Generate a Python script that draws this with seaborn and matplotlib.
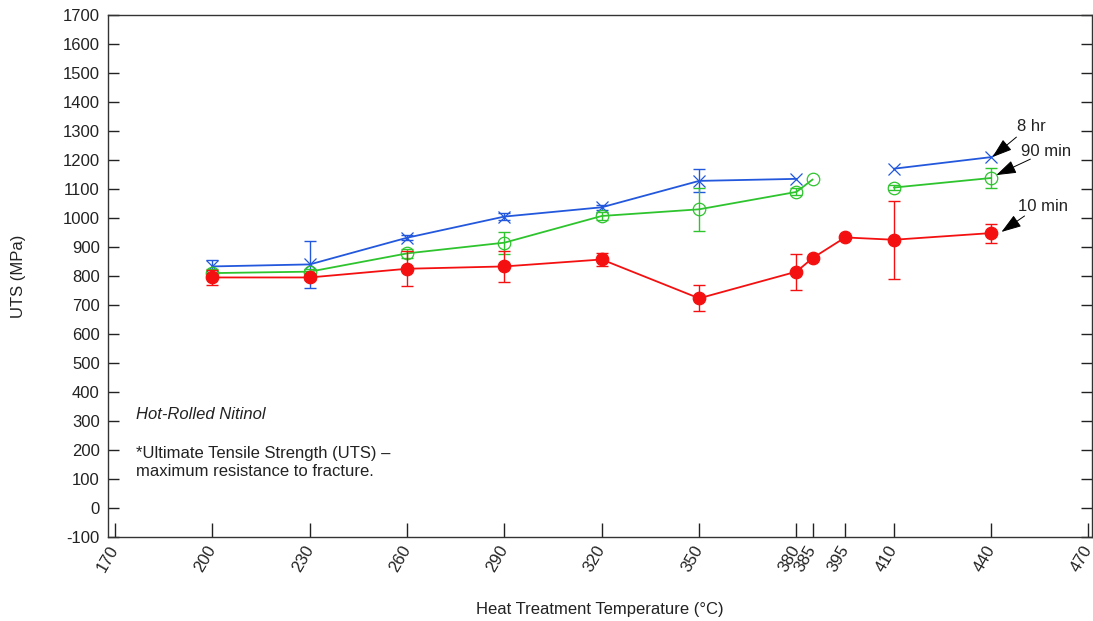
import numpy as np
import pandas as pd
import matplotlib
matplotlib.use("Agg")
import matplotlib.pyplot as plt
import seaborn as sns

# ---- data ----
temps_10 = [200, 230, 260, 290, 320, 350, 380, 385, 395, 410, 440]
uts_10 = [795, 795, 825, 833, 857, 723, 815, 862, 933, 925, 948]
err_10 = [25, 10, 60, 52, 24, 45, 62, 0, 0, 135, 33]

temps_90 = [200, 230, 260, 290, 320, 350, 380, 385, 410, 440]
uts_90 = [810, 815, 878, 915, 1007, 1030, 1090, 1133, 1105, 1138]
err_90 = [15, 10, 15, 38, 15, 75, 12, 0, 8, 33]
seg_90 = [0, 0, 0, 0, 0, 0, 0, 0, 1, 1]

temps_8h = [200, 230, 260, 290, 320, 350, 380, 410, 440]
uts_8h = [833, 840, 932, 1005, 1037, 1128, 1135, 1170, 1210]
err_8h = [22, 80, 8, 12, 8, 40, 0, 0, 0]
seg_8h = [0, 0, 0, 0, 0, 0, 0, 1, 1]

series_labels = ["8 hr", "90 min", "10 min"]

xticks = [170, 200, 230, 260, 290, 320, 350, 380, 385, 395, 410, 440, 470]
yticks = list(range(-100, 1701, 100))

sns.set_theme(style="white")
plt.rcParams['font.family'] = ['Liberation Sans', 'DejaVu Sans']

fig = plt.figure(figsize=(10.93, 6.21), dpi=100)
ax = fig.add_axes([0.0988, 0.1353, 0.9, 0.8405])

RED = "#f41010"
GREEN = "#2ec42e"
BLUE = "#2358dd"
FS = 12
TXT = "#222222"

df8 = pd.DataFrame({"T": temps_8h, "UTS": uts_8h, "seg": seg_8h})
df90 = pd.DataFrame({"T": temps_90, "UTS": uts_90, "seg": seg_90})
df10 = pd.DataFrame({"T": temps_10, "UTS": uts_10, "seg": [0] * len(temps_10)})

def draw(df, errs, color, marker, mfc, ms):
    sns.lineplot(data=df, x="T", y="UTS", units="seg", estimator=None,
                 color=color, lw=1.3, marker=marker, markersize=ms,
                 markerfacecolor=mfc, markeredgecolor=color, markeredgewidth=0.9,
                 ax=ax, legend=False, sort=False)
    e = np.array(errs, dtype=float)
    m = e > 0
    ax.errorbar(np.array(df["T"])[m], np.array(df["UTS"])[m], yerr=e[m],
                fmt="none", ecolor=color, elinewidth=1.0, capsize=4.5, capthick=1.0)

draw(df8, err_8h, BLUE, "x", BLUE, 9)
draw(df90, err_90, GREEN, "o", "none", 9)
draw(df10, err_10, RED, "o", RED, 9)

ax.set_xlim(167.8, 471)
ax.set_ylim(-100, 1700)
ax.set_xticks(xticks)
ax.set_xticklabels([str(t) for t in xticks], rotation=60, ha="right",
                   va="center", rotation_mode="anchor")
ax.set_yticks(yticks)
ax.set_yticklabels([str(t) for t in yticks])

for s in ["left", "bottom", "top", "right"]:
    ax.spines[s].set_visible(True)
    ax.spines[s].set_color("#333333")
    ax.spines[s].set_linewidth(1.0)

ax.tick_params(axis="x", direction="in", length=10, width=1, colors=TXT,
               labelsize=FS, pad=7, top=False, bottom=True)
ax.tick_params(axis="y", direction="in", length=8, width=1, colors=TXT,
               labelsize=FS, pad=6, left=True, right=True)
ax.grid(False)

ax.set_xlabel("Heat Treatment Temperature (°C)", fontsize=FS, color=TXT, labelpad=20)
ax.set_ylabel("UTS (MPa)", fontsize=FS, color=TXT, labelpad=26)

ax.text(176.5, 321, "Hot-Rolled Nitinol", fontsize=FS, style="italic",
        color=TXT, va="center")
ax.text(176.5, 213, "*Ultimate Tensile Strength (UTS) \u2013\nmaximum resistance to fracture.",
        fontsize=FS, color=TXT, va="top", linespacing=1.2)

arrow = dict(arrowstyle="-|>,head_length=0.95,head_width=0.32", color="black",
             lw=0.7, mutation_scale=13, shrinkA=0, shrinkB=0)
# (label, text pos, arrow tail, arrow tip)
ann = [
    (series_labels[0], (452.4, 1317), (447.8, 1279), (440.4, 1210)),
    (series_labels[1], (457.0, 1231), (452.1, 1203), (441.6, 1148)),
    (series_labels[2], (456.1, 1038), (450.3, 1007), (443.2, 952)),
]
for lab, tpos, tail, tip in ann:
    ax.text(tpos[0], tpos[1], lab, fontsize=FS, color=TXT, ha="center", va="center")
    ax.annotate("", xy=tip, xytext=tail, arrowprops=arrow)

fig.savefig("out.png", dpi=100)
